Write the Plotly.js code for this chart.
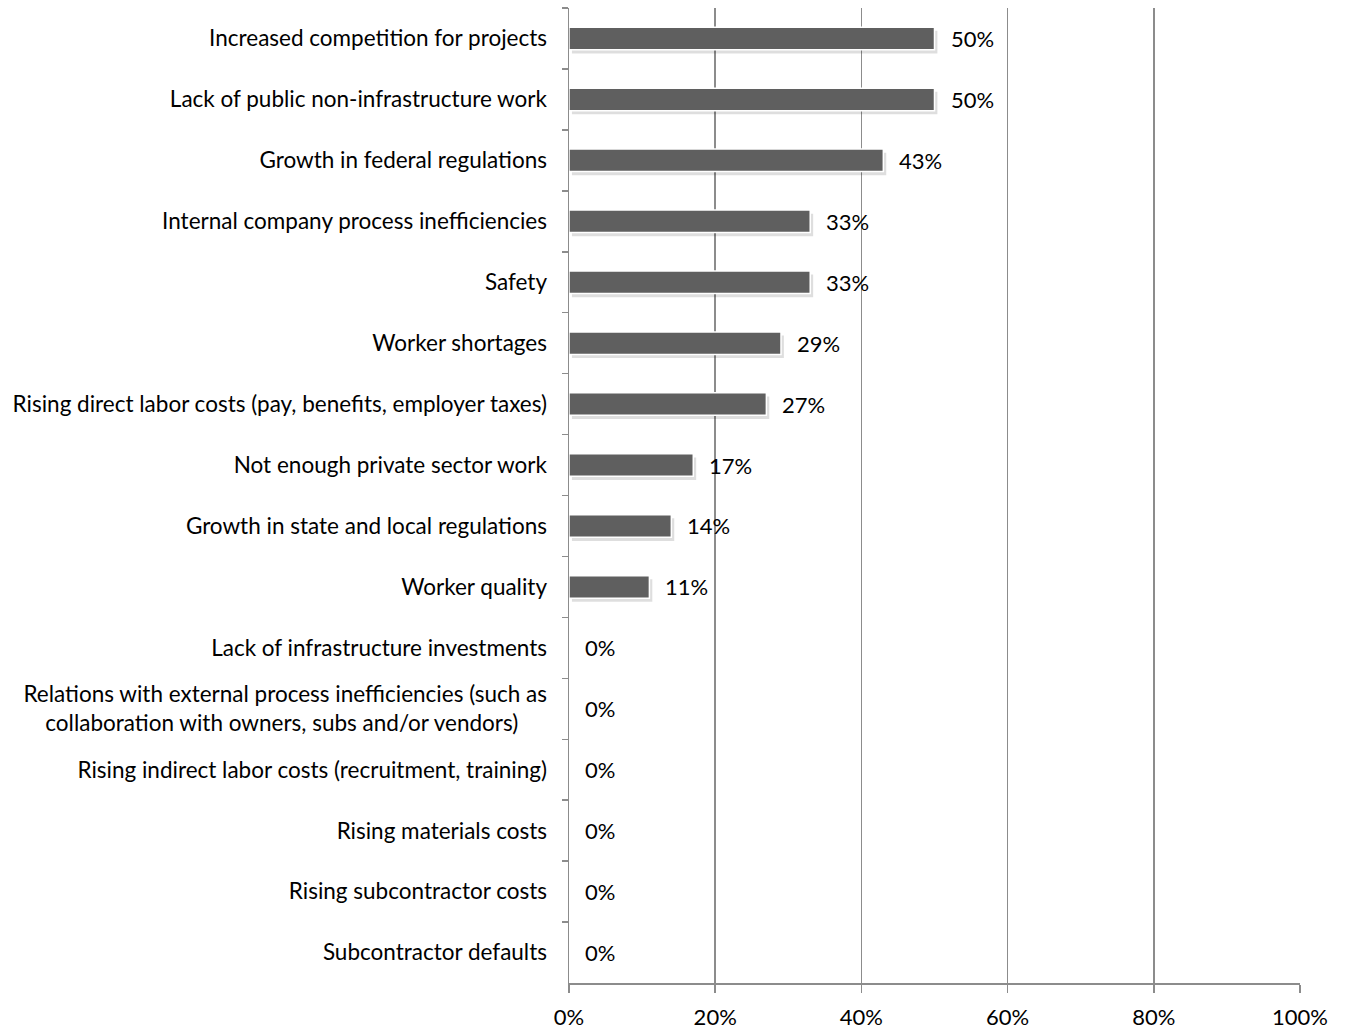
<!DOCTYPE html>
<html><head><meta charset="utf-8">
<script src="https://cdn.plot.ly/plotly-3.0.1.min.js"></script>
<style>body{margin:0;padding:0;background:#fff}#chart{width:1348px;height:1033px}</style>
</head><body><div id="chart"></div>
<script>
const categories = [
  "Increased competition for projects",
  "Lack of public non-infrastructure work",
  "Growth in federal regulations",
  "Internal company process inefficiencies",
  "Safety",
  "Worker shortages",
  "Rising direct labor costs (pay, benefits, employer taxes)",
  "Not enough private sector work",
  "Growth in state and local regulations",
  "Worker quality",
  "Lack of infrastructure investments",
  "Relations with external process inefficiencies (such as<br>collaboration with owners, subs and/or vendors)\u00a0\u00a0\u00a0\u00a0\u00a0",
  "Rising indirect labor costs (recruitment, training)",
  "Rising materials costs",
  "Rising subcontractor costs",
  "Subcontractor defaults"
];
const values = [0.50, 0.50, 0.43, 0.33, 0.33, 0.29, 0.27, 0.17, 0.14, 0.11, 0, 0, 0, 0, 0, 0];
const xTickVals = [0, 0.2, 0.4, 0.6, 0.8, 1.0];
const xTickText = ["0%", "20%", "40%", "60%", "80%", "100%"];

const font = "Lato, 'Open Sans', sans-serif";
const barW = 0.37;
const data = [{
  type: "bar", orientation: "h",
  y: categories, x: values.map(v => v > 0 ? v : null),
  base: 0.004, width: barW, offset: -barW / 2 + 0.06,
  marker: {color: "rgba(0,0,0,0.13)", line: {width: 0}},
  hoverinfo: "none"
}, {
  type: "bar", orientation: "h",
  y: categories, x: values,
  width: barW, offset: -barW / 2,
  marker: {color: "#5f5f5f", line: {color: "#ffffff", width: 1.5}},
  hoverinfo: "none"
}];
const annotations = values.map((v, i) => ({
  x: v, y: categories[i], xref: "x", yref: "y",
  text: Math.round(v * 100) + "%",
  showarrow: false, xanchor: "left", yanchor: "middle",
  xshift: 14, font: {family: font, size: 22, color: "#000"}
}));
const layout = {
  width: 1348, height: 1033,
  margin: {l: 569, r: 48, t: 8, b: 50},
  paper_bgcolor: "#fff", plot_bgcolor: "#fff",
  showlegend: false, barmode: "overlay",
  font: {family: font, color: "#000"},
  annotations: annotations,
  xaxis: {
    range: [0, 1], tickvals: xTickVals, ticktext: xTickText,
    showgrid: true, gridcolor: "#8c8c8c", gridwidth: 1.5,
    zeroline: false, showline: true, linecolor: "#8c8c8c", linewidth: 1.5,
    ticks: "outside", ticklen: 8, tickcolor: "#8c8c8c", tickwidth: 1.5,
    tickfont: {family: font, size: 22, color: "#000"},
    ticklabelstandoff: 6, fixedrange: true
  },
  yaxis: {
    type: "category", autorange: "reversed",
    showline: true, linecolor: "#8c8c8c", linewidth: 1.5,
    ticks: "outside", tickson: "boundaries", ticklen: 6, tickcolor: "#8c8c8c", tickwidth: 1.5,
    showgrid: false, zeroline: false,
    tickfont: {family: font, size: 22.5, color: "#000"},
    ticklabelstandoff: 16, fixedrange: true
  }
};
Plotly.newPlot("chart", data, layout, {displayModeBar: false, staticPlot: true});
</script></body></html>
